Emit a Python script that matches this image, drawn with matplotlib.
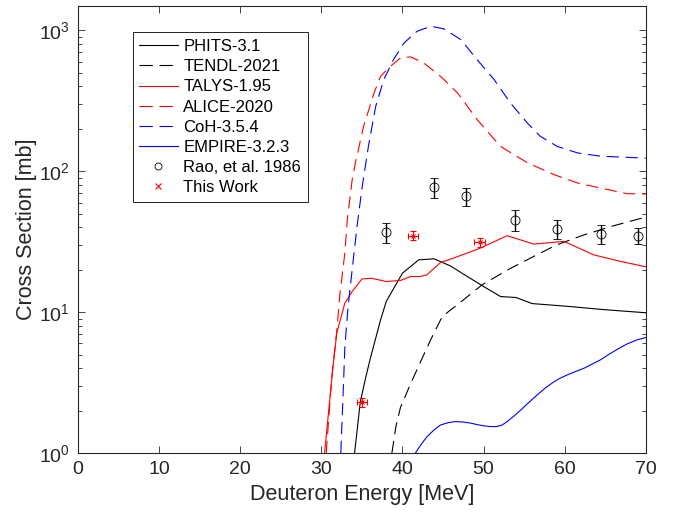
"""Deuteron-induced cross section: model curves vs. measurements."""

import matplotlib

matplotlib.use("Agg")
import matplotlib.pyplot as plt
from matplotlib.lines import Line2D
from matplotlib.ticker import LogLocator, LogFormatterSciNotation, NullFormatter

plt.rcParams["font.family"] = ["Liberation Sans", "DejaVu Sans"]
plt.rcParams["mathtext.fontset"] = "custom"
plt.rcParams["mathtext.rm"] = "Liberation Sans"
plt.rcParams["mathtext.it"] = "Liberation Sans:italic"
plt.rcParams["mathtext.bf"] = "Liberation Sans:bold"

# --- model curves (energy in MeV, cross section in mb) ---
phits_e = [34.1, 34.8, 35.4, 36.0, 37.3, 38.0, 40.0, 42.0, 43.9, 45.9, 48.0, 50.0,
           52.1, 54.0, 56.0, 60.3, 65.0, 70.0]
phits_xs = [1.0, 2.3, 3.3, 4.6, 8.8, 11.9, 18.9, 23.5, 23.9, 21.3, 17.9, 15.2,
            12.9, 12.7, 11.5, 11.0, 10.4, 9.9]

tendl_e = [38.7, 39.2, 39.75, 41.0, 42.2, 43.5, 44.9, 47.5, 49.8, 53.0, 56.2, 59.0,
           62.4, 66.0, 69.2, 70.0]
tendl_xs = [1.0, 1.55, 2.1, 3.1, 4.4, 6.4, 9.3, 12.2, 15.6, 20.0, 24.9, 30.0,
            35.4, 41.0, 46.0, 47.0]

talys_e = [30.4, 31.4, 31.9, 32.9, 33.8, 35.0, 36.2, 38.0, 39.8, 41.0, 42.2, 43.0,
           44.7, 46.3, 48.0, 49.6, 52.9, 56.2, 59.9, 63.6, 66.9, 70.0]
talys_xs = [1.0, 3.9, 7.1, 11.6, 14.0, 17.2, 17.4, 16.5, 16.8, 17.9, 17.9, 18.4,
            22.5, 24.2, 26.3, 28.5, 34.9, 30.4, 31.8, 25.5, 22.9, 21.0]

alice_e = [30.6, 31.3, 31.9, 32.3, 32.9, 33.2, 33.8, 34.2, 35.2, 36.5, 37.3, 38.3,
           39.75, 41.0, 42.6, 44.7, 46.8, 49.2, 52.1, 55.4, 58.7, 61.6, 64.4, 67.7, 70.0]
alice_xs = [1.0, 3.5, 7.3, 13.6, 26.3, 45.3, 87.0, 115, 208, 360, 472, 542,
            638, 649, 589, 472, 360, 233, 150, 115, 94.6, 82.6, 76.1, 69.3, 69.0]

coh_e = [32.4, 32.75, 32.9, 33.3, 33.8, 34.4, 35.0, 35.8, 36.7, 37.7, 38.9, 40.2,
         41.8, 43.5, 45.1, 47.2, 49.2, 51.3, 53.3, 55.4, 57.0, 59.1, 61.6, 64.4, 70.0]
coh_xs = [1.0, 3.3, 5.7, 11.0, 20.0, 40.6, 75.0, 150, 289, 448, 621, 816,
          986, 1071, 1026, 861, 621, 448, 306, 220, 177, 150, 135, 128, 124]

empire_e = [41.6, 42.3, 43.05, 43.9, 44.7, 45.6, 46.5, 47.4, 48.4, 49.2, 50.0, 50.8,
            51.6, 52.3, 52.9, 53.7, 54.6, 55.6, 56.6, 57.6, 58.7, 59.5, 60.3, 61.3,
            62.4, 63.4, 64.4, 65.3, 66.5, 67.7, 68.9, 70.0]
empire_xs = [1.0, 1.15, 1.31, 1.46, 1.58, 1.64, 1.67, 1.66, 1.63, 1.59, 1.56, 1.54,
             1.54, 1.58, 1.67, 1.82, 2.02, 2.29, 2.58, 2.89, 3.21, 3.41, 3.58, 3.78,
             4.0, 4.28, 4.58, 4.95, 5.45, 5.95, 6.35, 6.6]

# --- measurements ---
rao_e = [38.0, 43.9, 47.8, 53.9, 59.0, 64.5, 69.1]
rao_xs = [37.0, 76.9, 66.4, 45.3, 39.1, 36.0, 35.0]
rao_err = [6.0, 12.0, 9.5, 7.4, 6.3, 5.4, 4.7]

work_e = [35.0, 41.3, 49.5]
work_xs = [2.29, 34.9, 31.4]
work_xerr = [0.65, 0.65, 0.65]
work_yerr = [0.17, 2.6, 2.3]

fig = plt.figure(figsize=(6.8, 5.13), dpi=100)
ax = fig.add_axes([0.1147, 0.117, 0.835, 0.872])

dash = (11, 6)
ax.plot(phits_e, phits_xs, color="k", lw=0.8)
ax.plot(tendl_e, tendl_xs, color="k", lw=0.8, dashes=dash)
ax.plot(talys_e, talys_xs, color="r", lw=0.8)
ax.plot(alice_e, alice_xs, color="r", lw=0.8, dashes=dash)
ax.plot(coh_e, coh_xs, color="b", lw=0.8, dashes=dash)
ax.plot(empire_e, empire_xs, color="b", lw=0.8)

ax.errorbar(rao_e, rao_xs, yerr=rao_err, fmt="o", mfc="none", mec="k", ms=6.5,
            mew=0.6, ecolor="k", elinewidth=1.0, capsize=3, capthick=1.0)
ax.errorbar(work_e, work_xs, xerr=work_xerr, yerr=work_yerr, fmt="x", color="r",
            ms=3.5, mew=0.8, elinewidth=0.8, capsize=2.5, capthick=0.8)

ax.set_xlim(0, 70)
ax.set_ylim(1, 1500)
ax.set_yscale("log")
ax.set_xticks(range(0, 71, 10))
ax.yaxis.set_major_locator(LogLocator(base=10))
ax.yaxis.set_major_formatter(LogFormatterSciNotation())
ax.yaxis.set_minor_locator(LogLocator(base=10, subs=range(2, 10)))
ax.yaxis.set_minor_formatter(NullFormatter())

axis_col = "#262626"
for sp in ax.spines.values():
    sp.set_color(axis_col)
    sp.set_linewidth(0.8)
ax.tick_params(which="both", direction="in", top=True, right=True,
               color=axis_col, labelcolor=axis_col, width=0.6)
ax.tick_params(which="major", length=5, labelsize=14, pad=6)
ax.tick_params(which="minor", length=2.8)

ax.set_xlabel("Deuteron Energy [MeV]", fontsize=15.5, color=axis_col, labelpad=4)
ax.set_ylabel("Cross Section [mb]", fontsize=15.5, color=axis_col, labelpad=1)

leg_dash = (12, 6)
legend_handles = [
    Line2D([], [], color="k", lw=0.8),
    Line2D([], [], color="k", lw=0.8, dashes=leg_dash),
    Line2D([], [], color="r", lw=0.8),
    Line2D([], [], color="r", lw=0.8, dashes=leg_dash),
    Line2D([], [], color="b", lw=0.8, dashes=leg_dash),
    Line2D([], [], color="b", lw=0.8),
    Line2D([], [], ls="none", marker="o", mfc="none", mec="k", ms=5, mew=0.6),
    Line2D([], [], ls="none", marker="x", color="r", ms=4, mew=0.8),
]
legend_labels = ["PHITS-3.1", "TENDL-2021", "TALYS-1.95", "ALICE-2020",
                 "CoH-3.5.4", "EMPIRE-3.2.3", "Rao, et al. 1986", "This Work"]
leg = ax.legend(legend_handles, legend_labels, loc="upper left",
                bbox_to_anchor=(0.096, 0.94), borderaxespad=0, fontsize=12,
                frameon=True, fancybox=False, edgecolor="k", framealpha=1,
                handlelength=2.3, labelspacing=0.31, handletextpad=0.35,
                borderpad=0.4)
leg.get_frame().set_linewidth(0.6)

fig.savefig("out.png", dpi=100)
